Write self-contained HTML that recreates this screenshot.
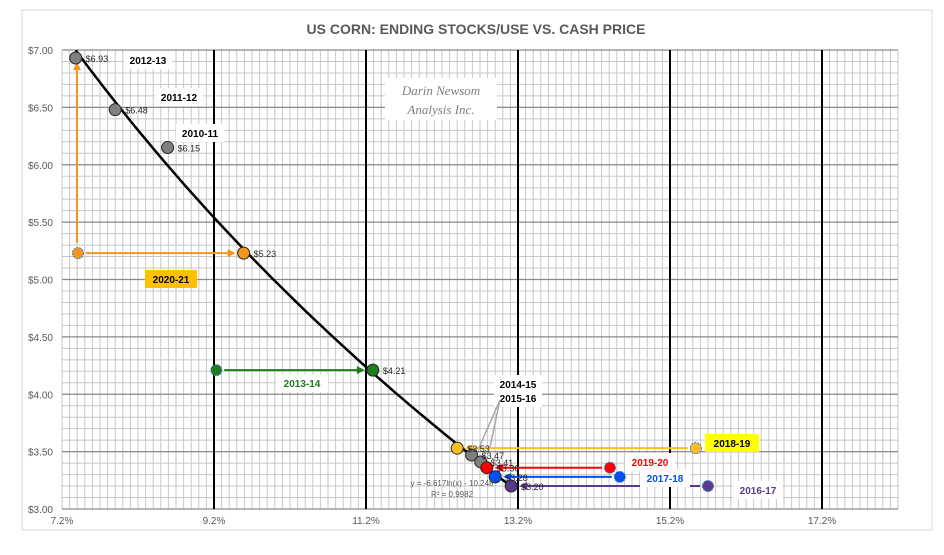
<!DOCTYPE html>
<html><head><meta charset="utf-8"><style>
body{margin:0;background:#fff;width:944px;height:550px;overflow:hidden;font-family:"Liberation Sans",sans-serif}
</style></head><body>
<svg id="chart" width="944" height="550" xmlns="http://www.w3.org/2000/svg">
<rect x="22" y="10" width="910" height="520" fill="#fff" stroke="#d9d9d9"/>
<text x="476" y="34" text-anchor="middle" font-size="14" font-weight="bold" fill="#595959">US CORN: ENDING STOCKS/USE VS. CASH PRICE</text>
<g id="grid"></g><g id="axes"></g><g id="marks"></g><g id="labels"></g>
</svg>
<script>
const xTicks=[7.2,9.2,11.2,13.2,15.2,17.2];
const yTicks=[3.0,3.5,4.0,4.5,5.0,5.5,6.0,6.5,7.0];
const seasons=["2012-13","2011-12","2010-11","2020-21","2013-14","2018-19","2014-15","2015-16","2019-20","2017-18","2016-17"];
const stocksUse=[7.38,7.90,8.59,9.59,11.29,12.40,12.59,12.71,12.79,12.90,13.11];
const prices=[6.93,6.48,6.15,5.23,4.21,3.53,3.47,3.41,3.36,3.28,3.20];
const priceLabels=["$6.93","$6.48","$6.15","$5.23","$4.21","$3.53","$3.47","$3.41","$3.36","$3.28","$3.20"];
const colors=["#7f7f7f","#7f7f7f","#7f7f7f","#f7941d","#1e7b1e","#fbbf24","#7f7f7f","#7f7f7f","#ff0000","#0050ef","#5b3a8e"];
const arrowFrom=[null,null,null,7.41,9.23,15.54,null,null,14.41,14.54,15.70];
const trendA=-6.617, trendB=-10.248;
const X=v=>62+(v-7.2)*76;
const Y=v=>509-(v-3)*114.75;
const NS="http://www.w3.org/2000/svg";
function mk(parent,tag,attrs){const e=document.createElementNS(NS,tag);for(const k in attrs)e.setAttribute(k,attrs[k]);document.getElementById(parent).appendChild(e);return e;}
for(let v=7.2;v<=18.21;v+=0.1){const e=mk('grid','line',{x1:X(v),x2:X(v),y1:Y(7),y2:Y(3),stroke:'#c8c8c8','stroke-width':1});

}
for(let v=3;v<=7.001;v+=0.1){const e=mk('grid','line',{x1:X(7.2),x2:X(18.2),y1:Y(v),y2:Y(v),stroke:'#c8c8c8','stroke-width':1});

}
yTicks.forEach(t=>{const e=mk('axes','line',{x1:X(7.2),x2:X(18.2),y1:Y(t),y2:Y(t),stroke:'#8c8c8c','stroke-width':1.2});


const l=mk('axes','text',{x:X(7.2)-9,y:Y(t)+4,'text-anchor':'end','font-size':10,fill:'#595959'});l.textContent='$'+t.toFixed(2);

});
xTicks.forEach(t=>{if(t>7.2){const e=mk('axes','line',{x1:X(t),x2:X(t),y1:Y(7),y2:Y(3),stroke:'#000','stroke-width':2});

}
const l=mk('axes','text',{x:X(t),y:524,'text-anchor':'middle','font-size':10,fill:'#595959'});l.textContent=t.toFixed(1)+'%';

});
const wb=mk('labels','rect',{x:385,y:78,width:112,height:42,fill:'#fff'});


[["Darin Newsom",95],["Analysis Inc.",114]].forEach(([s,y])=>{const t=mk('labels','text',{x:441,y:y,'text-anchor':'middle','font-size':13,'font-style':'italic','font-family':'Liberation Serif,serif',fill:'#7f7f7f'});t.textContent=s;

});
let d='';const x0=stocksUse[0],x1=stocksUse[stocksUse.length-1];
for(let i=0;i<=60;i++){const v=x0+(x1-x0)*i/60;const p=trendA*Math.log(v/100)+trendB;d+=(i?'L':'M')+X(v).toFixed(1)+','+Y(p).toFixed(1);}
const tl=mk('marks','path',{d:d,fill:'none',stroke:'#000','stroke-width':2.5});


const te=mk('labels','text',{x:452,y:486,'text-anchor':'middle','font-size':8,fill:'#595959'});te.textContent='y = -6.617ln(x) - 10.248';


const tr=mk('labels','text',{x:452,y:497,'text-anchor':'middle','font-size':8,fill:'#595959'});tr.textContent='R² = 0.9982';


stocksUse.forEach((v,i)=>{const f=arrowFrom[i];if(f==null)return;
const c=colors[i];
if(i===3){
 const a=mk('marks','line',{x1:X(f)-1,y1:Y(prices[i])-10,x2:X(f)-1,y2:Y(prices[0])+8,stroke:c,'stroke-width':2});
 
 
 const h=mk('marks','path',{d:`M${X(f)-5},${Y(prices[0])+12}L${X(f)-1},${Y(prices[0])+4}L${X(f)+3},${Y(prices[0])+12}Z`,fill:c});
 
 
}
const dir=X(v)>X(f)?1:-1;const xe=X(v)-dir*10;
const a=mk('marks','line',{x1:X(f)+dir*8,y1:Y(prices[i]),x2:xe,y2:Y(prices[i]),stroke:c,'stroke-width':2});


const h=mk('marks','path',{d:`M${xe+dir*2},${Y(prices[i])}L${xe-dir*6},${Y(prices[i])-4}L${xe-dir*6},${Y(prices[i])+4}Z`,fill:c});


const o=mk('marks','circle',{cx:X(f),cy:Y(prices[i]),r:5.5,fill:c,stroke:'#4472c4','stroke-width':1,'stroke-dasharray':'2 1'});


});
stocksUse.forEach((v,i)=>{const c=mk('marks','circle',{cx:X(v),cy:Y(prices[i]),r:6,fill:colors[i],stroke:'#262626','stroke-width':1});


const l=mk('labels','text',{x:X(v)+10,y:Y(prices[i])+4,'font-size':9,fill:'#262626'});l.textContent=priceLabels[i];

});
const boxes=[["2012-13",124,51,48,'#fff','#000'],["2011-12",155,88,48,'#fff','#000'],["2010-11",176,124,48,'#fff','#000'],["2020-21",145,270,52,'#ffc000','#000'],["2013-14",276,374,52,'#fff','#1e7b1e'],["2018-19",705,434,54,'#ffff00','#000'],["2014-15",494,375,48,'#fff','#000'],["2015-16",494,389,48,'#fff','#000'],["2019-20",625,453,50,'#fff','#ff0000'],["2017-18",640,469,50,'#fff','#0050ef'],["2016-17",733,481,50,'#fff','#5b3a8e']];
boxes.forEach(([s,x,y,w,bg,fg])=>{const r=mk('labels','rect',{x:x,y:y,width:w,height:18,fill:bg});


const t=mk('labels','text',{x:x+w/2,y:y+13,'text-anchor':'middle','font-size':10,'font-weight':'bold',fill:fg});t.textContent=s;

});
const c1=mk('labels','path',{d:'M500,400L478,450M500,400L490,447',stroke:'#a6a6a6','stroke-width':1.5,fill:'none'});


</script>
</body></html>
